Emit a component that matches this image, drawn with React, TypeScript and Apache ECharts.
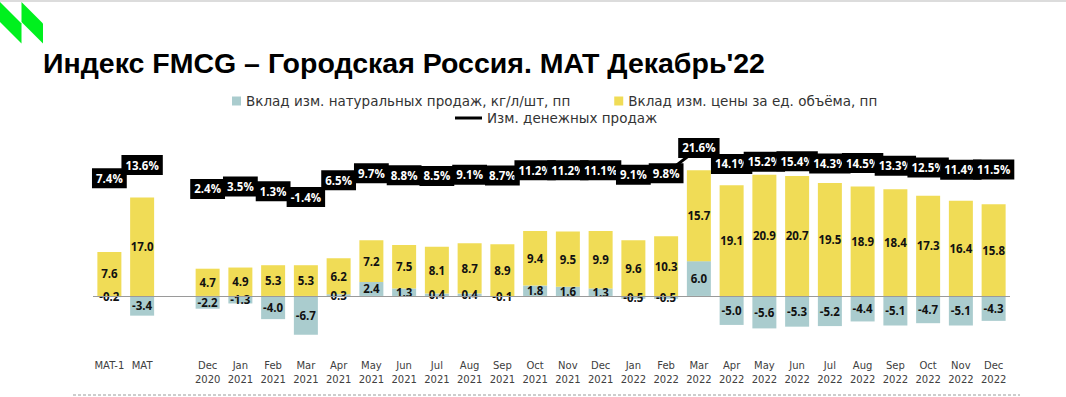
import React, { useEffect, useRef } from "react";
import * as echarts from "echarts";

const categories = [
  "MAT-1", "MAT", "",
  "Dec\n2020",
  "Jan\n2021", "Feb\n2021", "Mar\n2021", "Apr\n2021", "May\n2021", "Jun\n2021",
  "Jul\n2021", "Aug\n2021", "Sep\n2021", "Oct\n2021", "Nov\n2021", "Dec\n2021",
  "Jan\n2022", "Feb\n2022", "Mar\n2022", "Apr\n2022", "May\n2022", "Jun\n2022",
  "Jul\n2022", "Aug\n2022", "Sep\n2022", "Oct\n2022", "Nov\n2022", "Dec\n2022",
];

const volumeContribution = [
  -0.2, -3.4, null,
  -2.2,
  -1.3, -4.0, -6.7, 0.3, 2.4, 1.3, 0.4, 0.4, -0.1, 1.8, 1.6, 1.3,
  -0.5, -0.5, 6.0, -5.0, -5.6, -5.3, -5.2, -4.4, -5.1, -4.7, -5.1, -4.3,
];

const priceContribution = [
  7.6, 17.0, null,
  4.7,
  4.9, 5.3, 5.3, 6.2, 7.2, 7.5, 8.1, 8.7, 8.9, 9.4, 9.5, 9.9,
  9.6, 10.3, 15.7, 19.1, 20.9, 20.7, 19.5, 18.9, 18.4, 17.3, 16.4, 15.8,
];

const moneySales = [
  7.4, 13.6, null,
  2.4,
  3.5, 1.3, -1.4, 6.5, 9.7, 8.8, 8.5, 9.1, 8.7, 11.2, 11.2, 11.1,
  9.1, 9.8, 21.6, 14.1, 15.2, 15.4, 14.3, 14.5, 13.3, 12.5, 11.4, 11.5,
];

const seriesNames = [
  "Вклад изм. натуральных продаж, кг/л/шт, пп",
  "Вклад изм. цены за ед. объёма, пп",
  "Изм. денежных продаж",
];

const titleText = "Индекс FMCG – Городская Россия. MAT Декабрь'22";

const LABEL_FONT = "'Open Sans', 'Liberation Sans', sans-serif";
const TEXT_FONT = "'DejaVu Sans', sans-serif";

export default function App() {
  const ref = useRef<HTMLDivElement>(null);

  useEffect(() => {
    if (!ref.current) return;
    const chart = echarts.init(ref.current, null, { renderer: "svg" });

    const fmt1 = (p: any) =>
      p.value === null || p.value === undefined ? "" : Number(p.value).toFixed(1);

    const option: any = {
      animation: false,
      backgroundColor: "#ffffff",
      title: {
        text: titleText,
        left: 43,
        top: 48,
        padding: 0,
        textStyle: {
          fontFamily: "'Liberation Sans', Arial, sans-serif",
          fontWeight: "bold",
          fontSize: 28.5,
          color: "#000000",
        },
      },
      legend: [
        {
          data: [seriesNames[0], seriesNames[1]],
          left: 232,
          top: 94,
          padding: 0,
          icon: "rect",
          itemWidth: 9,
          itemHeight: 9,
          itemGap: 44,
          textStyle: { fontFamily: TEXT_FONT, fontSize: 13.5, color: "#333333" },
        },
        {
          data: [seriesNames[2]],
          left: 455,
          top: 111,
          padding: 0,
          icon: "rect",
          itemWidth: 27,
          itemHeight: 3,
          textStyle: { fontFamily: TEXT_FONT, fontSize: 13.5, color: "#333333" },
        },
      ],
      grid: { left: 93, right: 56, top: 140, bottom: 57 },
      xAxis: {
        type: "category",
        data: categories,
        axisLine: { show: false },
        axisTick: { show: false },
        axisLabel: {
          interval: 0,
          margin: 18,
          fontFamily: TEXT_FONT,
          fontSize: 10,
          lineHeight: 14,
          color: "#404040",
        },
      },
      yAxis: [
        { type: "value", min: -7.6, max: 26.9, show: false, splitLine: { show: false } },
        { type: "value", min: -68.5, max: 25.35, show: false, splitLine: { show: false } },
      ],
      series: [
        {
          name: seriesNames[0],
          type: "bar",
          stack: "total",
          barWidth: 24,
          data: volumeContribution,
          itemStyle: { color: "#AACCCE" },
          label: {
            show: true,
            position: "inside",
            formatter: fmt1,
            fontFamily: LABEL_FONT,
            fontWeight: "bold",
            fontSize: 11.5,
            color: "#111111",
          },
          markLine: {
            silent: true,
            symbol: "none",
            label: { show: false },
            lineStyle: { color: "#9a9a9a", type: "solid", width: 1 },
            data: [{ yAxis: 0 }],
          },
        },
        {
          name: seriesNames[1],
          type: "bar",
          stack: "total",
          barWidth: 24,
          data: priceContribution,
          itemStyle: { color: "#F0DC56" },
          label: {
            show: true,
            position: "inside",
            formatter: fmt1,
            fontFamily: LABEL_FONT,
            fontWeight: "bold",
            fontSize: 11.5,
            color: "#111111",
          },
        },
        {
          name: seriesNames[2],
          type: "line",
          yAxisIndex: 1,
          data: moneySales,
          connectNulls: false,
          symbol: "circle",
          symbolSize: 2,
          itemStyle: { color: "#000000" },
          lineStyle: { color: "#000000", width: 3 },
          z: 5,
          label: {
            show: true,
            position: "inside",
            formatter: (p: any) =>
              p.value === null || p.value === undefined ? "" : Number(p.value).toFixed(1) + "%",
            backgroundColor: "#000000",
            color: "#ffffff",
            fontFamily: LABEL_FONT,
            fontWeight: "bold",
            fontSize: 11.5,
            padding: [4, 4, 4, 4],
          },
        },
      ],
      graphic: [
        {
          type: "rect",
          shape: { x: 0, y: 0, width: 1066, height: 2 },
          style: { fill: "#dcdcdc" },
          silent: true,
        },
        {
          type: "polygon",
          shape: { points: [[0, 2], [21.5, 23.5], [21.5, 43.5], [0, 22]] },
          style: { fill: "#00F01E" },
          silent: true,
        },
        {
          type: "polygon",
          shape: { points: [[21.5, 2], [43, 23.5], [43, 43.5], [21.5, 22]] },
          style: { fill: "#00F01E" },
          silent: true,
        },
        {
          type: "line",
          shape: { x1: 73, y1: 395, x2: 1020, y2: 395 },
          style: { stroke: "#9a9a9a", lineWidth: 1, lineDash: [3, 2] },
          silent: true,
        },
      ],
    };

    chart.setOption(option);
    return () => chart.dispose();
  }, []);

  return (
    <div
      ref={ref}
      style={{ position: "fixed", left: 0, top: 0, width: 1066, height: 397 }}
    />
  );
}
